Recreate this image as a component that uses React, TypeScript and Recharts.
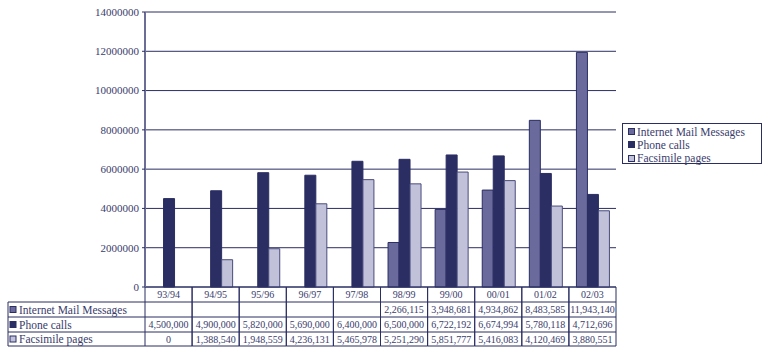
import React from 'react';
import { BarChart, Bar, XAxis, YAxis, CartesianGrid, Legend } from 'recharts';

const categories = ['93/94', '94/95', '95/96', '96/97', '97/98', '98/99', '99/00', '00/01', '01/02', '02/03'];
const internetMail: (number | null)[] = [null, null, null, null, null, 2266115, 3948681, 4934862, 8483585, 11943140];
const phoneCalls: (number | null)[] = [4500000, 4900000, 5820000, 5690000, 6400000, 6500000, 6722192, 6674994, 5780118, 4712696];
const faxPages: (number | null)[] = [0, 1388540, 1948559, 4236131, 5465978, 5251290, 5851777, 5416083, 4120469, 3880551];
const yTicks = [0, 2000000, 4000000, 6000000, 8000000, 10000000, 12000000, 14000000];
const seriesNames = ['Internet Mail Messages', 'Phone calls', 'Facsimile pages'];

const data = categories.map((c, i) => ({
  cat: c,
  internet: internetMail[i],
  phone: phoneCalls[i],
  fax: faxPages[i],
}));
const seriesValues = [internetMail, phoneCalls, faxPages];

const COLORS = ['#6a6a9c', '#2b2e63', '#c1c1da'];
const NAVY = '#2b2e63';
const TEXT = '#3a3c6c';
const FONT = '"Liberation Serif", "Times New Roman", serif';

const W = 777;
const H = 357;
const PLOT_L = 145;
const PLOT_R = 616;
const PLOT_T = 12;
const AXIS_Y = 287;
const YAXIS_W = 70;
const XAXIS_H = 60;
const TABLE_L = 8;
const ROW_OFFS = [0, 15, 30, 45, 59];
const COL_W = (PLOT_R - PLOT_L) / categories.length;

const fmt = (v: number | null) => (v === null || v === undefined ? '' : v.toLocaleString('en-US'));

const TableColumn = (props: any) => {
  const { x, y, index } = props;
  const left = x - COL_W / 2;
  const right = x + COL_W / 2;
  const cells = [categories[index], ...seriesValues.map((s) => fmt(s[index]))];
  const els: React.ReactNode[] = [];
  els.push(<line key="vl" x1={left} x2={left} y1={y} y2={y + ROW_OFFS[4]} stroke={NAVY} strokeWidth={1} />);
  els.push(<line key="vr" x1={right} x2={right} y1={y} y2={y + ROW_OFFS[4]} stroke={NAVY} strokeWidth={1} />);
  for (let r = 1; r < ROW_OFFS.length; r++) {
    els.push(
      <line key={'h' + r} x1={left} x2={right} y1={y + ROW_OFFS[r]} y2={y + ROW_OFFS[r]} stroke={NAVY} strokeWidth={1} />
    );
  }
  cells.forEach((t, r) => {
    const cy = y + (ROW_OFFS[r] + ROW_OFFS[r + 1]) / 2;
    els.push(
      <text key={'t' + r} x={x} y={cy} textAnchor="middle" dominantBaseline="central" fontSize={10} fill={TEXT} fontFamily={FONT}>
        {t}
      </text>
    );
  });
  if (index === 0) {
    const lx = TABLE_L;
    els.push(<line key="lv" x1={lx} x2={lx} y1={y + ROW_OFFS[1]} y2={y + ROW_OFFS[4]} stroke={NAVY} strokeWidth={1} />);
    for (let r = 1; r < ROW_OFFS.length; r++) {
      els.push(
        <line key={'lh' + r} x1={lx} x2={left} y1={y + ROW_OFFS[r]} y2={y + ROW_OFFS[r]} stroke={NAVY} strokeWidth={1} />
      );
    }
    seriesNames.forEach((n, i) => {
      const cy = y + (ROW_OFFS[i + 1] + ROW_OFFS[i + 2]) / 2;
      els.push(
        <rect key={'lm' + i} x={lx + 2} y={cy - 3} width={6} height={6} fill={COLORS[i]} stroke={NAVY} strokeWidth={1} />
      );
      els.push(
        <text key={'lt' + i} x={lx + 11} y={cy} dominantBaseline="central" fontSize={11.5} fill={TEXT} fontFamily={FONT}>
          {n}
        </text>
      );
    });
  }
  return <g>{els}</g>;
};

const LegendBox = (props: any) => {
  const payload = [...(props.payload || [])].sort(
    (a: any, b: any) => seriesNames.indexOf(a.value) - seriesNames.indexOf(b.value)
  );
  return (
    <div
      style={{
        border: `1px solid ${NAVY}`,
        background: '#fff',
        width: 140,
        height: 41,
        boxSizing: 'border-box',
        padding: '1px 0 0 5px',
        fontFamily: FONT,
        fontSize: 11.5,
        color: TEXT,
      }}
    >
      {payload.map((p: any, i: number) => (
        <div key={i} style={{ display: 'flex', alignItems: 'center', height: 13.3, whiteSpace: 'nowrap' }}>
          <span
            style={{
              display: 'inline-block',
              width: 5,
              height: 5,
              background: p.color,
              border: `1px solid ${NAVY}`,
              marginRight: 2,
            }}
          />
          <span>{p.value}</span>
        </div>
      ))}
    </div>
  );
};

export default function App() {
  return (
    <div style={{ position: 'absolute', left: 0, top: 0, width: W, height: H, background: '#fff' }}>
      <BarChart
        width={W}
        height={H}
        data={data}
        margin={{ top: PLOT_T, right: W - PLOT_R, left: PLOT_L - YAXIS_W, bottom: H - AXIS_Y - XAXIS_H }}
        barCategoryGap="16%"
        barGap={0}
        style={{ fontFamily: FONT }}
      >
        <CartesianGrid vertical={false} stroke={NAVY} strokeWidth={1} />
        <XAxis
          dataKey="cat"
          height={XAXIS_H}
          interval={0}
          tickSize={0}
          tickMargin={0}
          tickLine={false}
          axisLine={{ stroke: NAVY, strokeWidth: 1 }}
          tick={<TableColumn />}
        />
        <YAxis
          width={YAXIS_W}
          domain={[0, 14000000]}
          ticks={yTicks}
          interval={0}
          tickSize={3}
          tickMargin={3}
          tick={{ fontSize: 11, fill: TEXT, fontFamily: FONT }}
          tickLine={{ stroke: NAVY }}
          axisLine={{ stroke: '#6b6d97', strokeWidth: 2 }}
        />
        <YAxis
          yAxisId="right"
          orientation="right"
          width={0}
          domain={[0, 14000000]}
          tick={false}
          tickLine={false}
          axisLine={{ stroke: NAVY, strokeWidth: 1 }}
        />
        <Legend
          layout="horizontal"
          align="center"
          verticalAlign="middle"
          wrapperStyle={{ left: 622, top: 123, width: 140, height: 41 }}
          content={<LegendBox />}
        />
        <Bar dataKey="internet" name={seriesNames[0]} fill={COLORS[0]} stroke={NAVY} strokeWidth={1} isAnimationActive={false} />
        <Bar dataKey="phone" name={seriesNames[1]} fill={COLORS[1]} stroke={NAVY} strokeWidth={1} isAnimationActive={false} />
        <Bar dataKey="fax" name={seriesNames[2]} fill={COLORS[2]} stroke="#4a4c7c" strokeWidth={1} isAnimationActive={false} />
      </BarChart>
    </div>
  );
}
